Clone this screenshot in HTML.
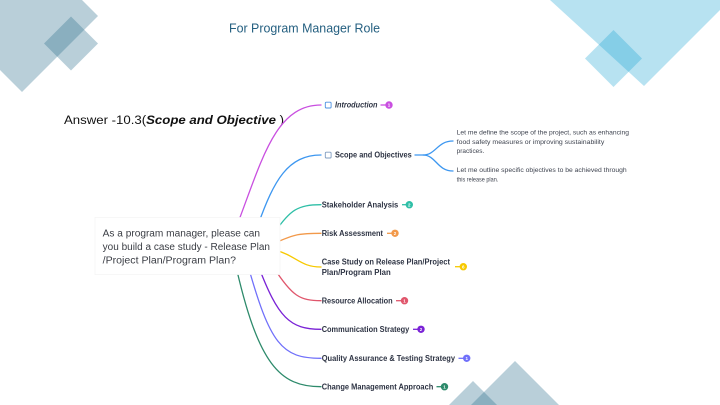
<!DOCTYPE html>
<html><head><meta charset="utf-8"><style>
html,body{margin:0;padding:0;background:#fff;width:720px;height:405px;overflow:hidden;}
svg{display:block;}
.n{font-family:"Liberation Sans",sans-serif;font-weight:bold;font-size:7.8px;fill:#2d3343;}
.d{font-family:"Liberation Sans",sans-serif;font-size:6.3px;fill:#3f4450;}
.q{font-family:"Liberation Sans",sans-serif;font-size:9.8px;fill:#3a3d44;}
.b{font-family:"Liberation Sans",sans-serif;font-size:4.5px;font-weight:bold;fill:#fff;}
</style></head><body>
<svg width="720" height="405" viewBox="0 0 720 405" xmlns="http://www.w3.org/2000/svg" overflow="hidden">
<rect width="720" height="405" fill="#fff"/>
<!-- background shapes -->
<g fill="#2b6e8c" fill-opacity="0.33">
<polygon points="22,-60 98,16 22,92 -54,16"/>
<polygon points="71,16.5 98,43.5 71,70.5 44,43.5"/>
<polygon points="515,361 559,405 515,405 471,405"/>
<polygon points="473,381 497,405 449,405"/>
</g>
<g fill="#13a0d1" fill-opacity="0.305">
<polygon points="550,0 644,86 720,10 720,0"/>
<polygon points="613.5,30 642,58.5 613.5,87 585,58.5"/>
</g>
<!-- title -->
<text x="229" y="32.5" font-family="Liberation Sans, sans-serif" font-size="13" fill="#245f80" textLength="151" lengthAdjust="spacingAndGlyphs">For Program Manager Role</text>
<!-- answer -->
<text x="64" y="124" font-family="Liberation Sans, sans-serif" font-size="12.2" fill="#111" textLength="220" lengthAdjust="spacingAndGlyphs">Answer -10.3(<tspan font-weight="bold" font-style="italic">Scope and Objective</tspan> )</text>
<!-- connectors -->
<g fill="none" stroke-width="1.3" stroke-linecap="round">
<path d="M236,228 C262,160 275,105 321,105" stroke="#c94fe0"/>
<path d="M258,225 C274,180 288,155 321,155" stroke="#3d97f0"/>
<path d="M275,232 C290,210 298,204.7 321,204.7" stroke="#2fbfa7"/>
<path d="M275,243 C295,234 300,233.3 321,233.3" stroke="#f2994a"/>
<path d="M275,250 C297,256 300,267 321,267" stroke="#f7c900"/>
<path d="M274,268 C292,296 300,300.7 321,300.7" stroke="#e0566c"/>
<path d="M258,265 C278,318 290,329.3 321,329.3" stroke="#7a22d6"/>
<path d="M247,262 C270,345 282,358.3 321,358.3" stroke="#7070fa"/>
<path d="M235,262 C258,365 280,386.7 321,386.7" stroke="#2d8a6b"/>
<!-- scope fork -->
<path d="M415,155 L423,155 C436,155 437,141 453,141" stroke="#3d97f0"/>
<path d="M423,155 C436,155 437,171 453,171" stroke="#3d97f0"/>
</g>
<!-- question box -->
<rect x="95" y="217.5" width="185" height="57" fill="#fff" stroke="#f5f5f5" stroke-width="0.8"/>
<text class="q" x="102.7" y="236.7" textLength="157.3" lengthAdjust="spacingAndGlyphs">As a program manager, please can</text>
<text class="q" x="102.7" y="250" textLength="167.3" lengthAdjust="spacingAndGlyphs">you build a case study - Release Plan</text>
<text class="q" x="102.7" y="263.4" textLength="133.3" lengthAdjust="spacingAndGlyphs">/Project Plan/Program Plan?</text>
<!-- checkboxes -->
<rect x="325.3" y="102.2" width="5.8" height="5.8" rx="1" fill="#fff" stroke="#4a90e2" stroke-width="0.9"/>
<rect x="325.3" y="152.2" width="5.8" height="5.8" rx="1" fill="#fff" stroke="#7f9cc0" stroke-width="0.9"/>
<!-- node labels -->
<text class="n" x="335" y="107.7" font-style="italic" textLength="42.5" lengthAdjust="spacingAndGlyphs">Introduction</text>
<text class="n" x="335" y="157.7" textLength="76.7" lengthAdjust="spacingAndGlyphs">Scope and Objectives</text>
<text class="n" x="321.7" y="207.4" textLength="76.6" lengthAdjust="spacingAndGlyphs">Stakeholder Analysis</text>
<text class="n" x="321.7" y="236" textLength="61.3" lengthAdjust="spacingAndGlyphs">Risk Assessment</text>
<text class="n" x="321.7" y="264.4" textLength="128.3" lengthAdjust="spacingAndGlyphs">Case Study on Release Plan/Project</text>
<text class="n" x="321.7" y="275" textLength="69" lengthAdjust="spacingAndGlyphs">Plan/Program Plan</text>
<text class="n" x="321.7" y="303.4" textLength="71" lengthAdjust="spacingAndGlyphs">Resource Allocation</text>
<text class="n" x="321.7" y="332" textLength="87.6" lengthAdjust="spacingAndGlyphs">Communication Strategy</text>
<text class="n" x="321.7" y="361" textLength="133.3" lengthAdjust="spacingAndGlyphs">Quality Assurance &amp; Testing Strategy</text>
<text class="n" x="321.7" y="389.4" textLength="111.6" lengthAdjust="spacingAndGlyphs">Change Management Approach</text>
<!-- descriptions -->
<text class="d" x="456.7" y="134.5" textLength="172.3" lengthAdjust="spacingAndGlyphs">Let me define the scope of the project, such as enhancing</text>
<text class="d" x="456.7" y="143.9" textLength="147.6" lengthAdjust="spacingAndGlyphs">food safety measures or improving sustainability</text>
<text class="d" x="456.7" y="153.2" textLength="27.6" lengthAdjust="spacingAndGlyphs">practices.</text>
<text class="d" x="456.7" y="172.2" textLength="170" lengthAdjust="spacingAndGlyphs">Let me outline specific objectives to be achieved through</text>
<text class="d" x="456.7" y="181.5" textLength="41.6" lengthAdjust="spacingAndGlyphs">this release plan.</text>
<!-- badges -->
<g stroke-width="1.3">
<line x1="380.5" y1="105" x2="386" y2="105" stroke="#c94fe0"/><circle cx="389" cy="105" r="3.7" fill="#c94fe0"/>
<line x1="402" y1="204.7" x2="406" y2="204.7" stroke="#2fbfa7"/><circle cx="409.3" cy="204.7" r="3.7" fill="#2fbfa7"/>
<line x1="387" y1="233.3" x2="392" y2="233.3" stroke="#f2994a"/><circle cx="395" cy="233.3" r="3.7" fill="#f2994a"/>
<line x1="455" y1="266.7" x2="460" y2="266.7" stroke="#f7c900"/><circle cx="463.3" cy="266.7" r="3.7" fill="#f7c900"/>
<line x1="396" y1="300.7" x2="401" y2="300.7" stroke="#e0566c"/><circle cx="404.5" cy="300.7" r="3.7" fill="#e0566c"/>
<line x1="413" y1="329.3" x2="418" y2="329.3" stroke="#7a22d6"/><circle cx="421" cy="329.3" r="3.7" fill="#7a22d6"/>
<line x1="458.5" y1="358.3" x2="463.5" y2="358.3" stroke="#7070fa"/><circle cx="466.7" cy="358.3" r="3.7" fill="#7070fa"/>
<line x1="436.5" y1="386.7" x2="441.5" y2="386.7" stroke="#2d8a6b"/><circle cx="444.5" cy="386.7" r="3.7" fill="#2d8a6b"/>
</g>
<g text-anchor="middle">
<text x="389" y="106.6" class="b">1</text>
<text x="409.3" y="206.3" class="b">2</text>
<text x="395" y="234.9" class="b">2</text>
<text x="463.3" y="268.3" class="b">6</text>
<text x="404.5" y="302.3" class="b">1</text>
<text x="421" y="330.9" class="b">2</text>
<text x="466.7" y="359.9" class="b">1</text>
<text x="444.5" y="388.3" class="b">1</text>
</g>
</svg>
</body></html>
